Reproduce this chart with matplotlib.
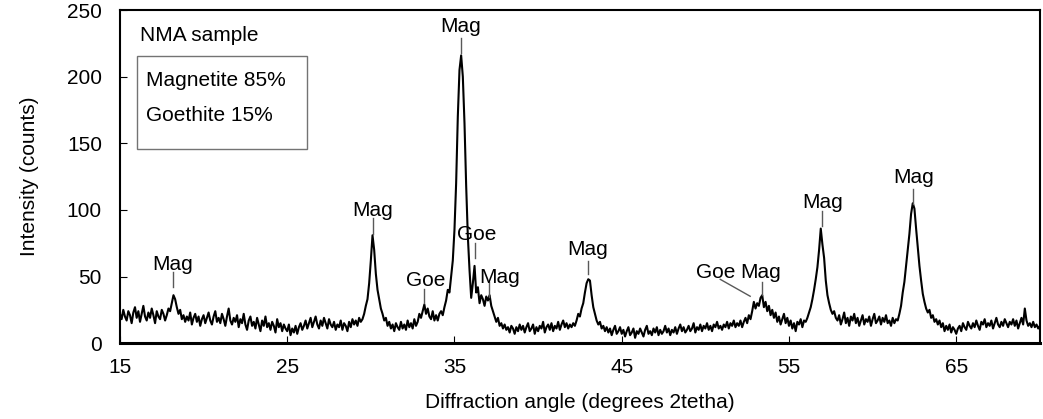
import numpy as np
import matplotlib
matplotlib.use("Agg")
import matplotlib.pyplot as plt
from matplotlib.patches import Rectangle

plt.rcParams['font.family'] = ['Liberation Sans', 'DejaVu Sans']

# 2theta scan grid, 0.1 deg steps from 15 to 70
two_theta = np.round(np.arange(15.0, 70.001, 0.1), 1)

# intensity, one list per 10 degrees
counts_15_25 = [
    22, 18, 25, 20, 17, 24, 21, 15, 23, 27,
    19, 24, 16, 22, 28, 20, 17, 23, 19, 26,
    21, 15, 24, 20, 18, 25, 22, 17, 21, 26,
    24, 30, 36, 33, 27, 22, 25, 18, 21, 16,
    20, 17, 23, 14, 19, 22, 16, 20, 13, 18,
    21, 15, 19, 23, 17, 14, 20, 24, 16, 19,
    15, 22, 18, 13, 20, 26, 17, 14, 19, 16,
    21, 12, 18, 15, 22, 14, 10, 17, 20, 13,
    16, 11, 19, 14, 9, 17, 13, 20, 12, 15,
    10, 16, 13, 8, 18, 12, 15, 9, 14, 11,
]
counts_25_35 = [
    9, 14, 6, 11, 8, 13, 7, 12, 15, 10,
    13, 17, 11, 15, 19, 12, 16, 20, 14, 11,
    17, 13, 19, 15, 11, 18, 14, 12, 16, 10,
    14, 12, 17, 10, 15, 13, 9, 16, 12, 18,
    14, 17, 13, 19, 16, 18, 22, 28, 33, 45,
    62, 81, 70, 52, 40, 33, 26, 22, 17, 19,
    13, 16, 11, 14, 9, 15, 12, 10, 16, 11,
    14, 10, 17, 12, 15, 11, 18, 13, 16, 22,
    19, 24, 29, 22, 26, 20, 18, 24, 17, 21,
    17, 22, 24, 21, 27, 32, 40, 38, 50, 62,
]
counts_35_45 = [
    85, 120, 170, 205, 216, 200, 165, 118, 80, 55,
    34, 45, 58, 38, 42, 30, 36, 33, 28, 35,
    32, 36, 28, 24, 20, 16, 19, 13, 15, 11,
    14, 10, 12, 8, 13, 11, 7, 12, 9, 14,
    10, 13, 8, 12, 15, 9, 11, 14, 7, 12,
    9, 13, 11, 16, 8, 12, 14, 10, 15, 9,
    13, 11, 16, 10, 14, 17, 12, 15, 11, 14,
    12, 15, 13, 17, 22, 20, 26, 30, 38, 45,
    48, 47, 36, 27, 22, 17, 14, 16, 11, 13,
    9, 12, 8, 11, 6, 10, 13, 7, 9, 12,
]
counts_45_55 = [
    7, 10, 5, 9, 12, 6, 8, 11, 4, 9,
    7, 11, 8, 5, 10, 13, 7, 9, 6, 11,
    8, 12, 6, 10, 7, 9, 13, 8, 11, 6,
    10, 8, 12, 7, 11, 14, 9, 12, 8, 10,
    13, 9, 11, 15, 8, 12, 10, 14, 9, 13,
    11, 15, 10, 13, 9, 14, 12, 16, 11, 13,
    10, 14, 12, 16, 11, 15, 13, 17, 12, 15,
    13, 17, 12, 16, 19, 15, 21, 18, 24, 31,
    26, 30, 28, 34, 36, 27, 31, 24, 28, 21,
    25, 19, 23, 16, 20, 14, 18, 22, 15, 19,
]
counts_55_65 = [
    13, 17, 11, 15, 9, 16, 14, 18, 12, 17,
    16, 19, 23, 27, 33, 40, 48, 57, 70, 86,
    74, 64, 47, 36, 30, 25, 22, 24, 19, 17,
    21, 14, 18, 23, 15, 19, 13, 20, 17, 22,
    15, 19, 13, 17, 21, 14, 18, 16, 20, 13,
    18, 22, 15, 17, 20, 14, 19, 16, 21, 15,
    17, 13, 19, 15, 18, 17, 22, 28, 38, 46,
    58, 70, 82, 97, 105, 101, 86, 72, 58, 47,
    37, 31, 26, 23, 25, 19, 21, 16, 18, 14,
    17, 12, 15, 9, 13, 10, 14, 8, 12, 10,
]
counts_65_70 = [
    7, 11, 13, 9, 15, 12, 10, 16, 13, 11,
    15, 12, 17, 13, 10, 16, 14, 18, 12, 15,
    13, 17, 11, 15, 19, 14, 12, 16, 13, 18,
    15, 12, 16, 14, 18, 13, 17, 11, 15, 19,
    14, 26, 17, 13, 15, 12, 16, 12, 14, 11,
    13,
]
intensity = np.array(counts_15_25 + counts_25_35 + counts_35_45
                     + counts_45_55 + counts_55_65 + counts_65_70)

# peak labels: text, text x, text baseline y, marker x, marker y0, marker y1
peak_names = ["Mag", "Mag", "Goe", "Mag", "Goe", "Mag", "Mag", "Mag", "Mag", "Mag"]
peak_text_x = [18.15, 30.12, 33.27, 35.37, 36.3, 37.7, 42.98, 53.33, 57.0, 62.44]
peak_text_y = [54.6, 95.8, 42.7, 233.8, 77.1, 44.9, 65.9, 48.9, 101.8, 120.0]
peak_line_x = [18.17, 30.1, 33.15, 35.37, 36.2, 37.08, 43.0, 53.39, 57.0, 62.44]
peak_line_lo = [42.1, 82.3, 30.0, 218.0, 63.6, 34.7, 52.0, 35.9, 88.0, 104.8]
peak_line_hi = [53.4, 93.6, 41.0, 229.0, 74.8, 45.9, 62.0, 45.9, 99.0, 116.0]

x_ticks = [15, 25, 35, 45, 55, 65]
y_ticks = [0, 50, 100, 150, 200, 250]

FS = 15

fig = plt.figure(figsize=(10.43, 4.19), dpi=100)
ax = fig.add_axes([0.115, 0.181, 0.882, 0.795])

ax.plot(two_theta, intensity, color='black', lw=1.5)

for name, tx, ty, lx, y0, y1 in zip(peak_names, peak_text_x, peak_text_y,
                                    peak_line_x, peak_line_lo, peak_line_hi):
    ax.text(tx, ty, name, ha='center', va='baseline', fontsize=FS)
    ax.plot([lx, lx], [y0, y1], color='0.35', lw=1)

# the Goe label next to the 53 deg Mag peak uses a slanted leader
ax.text(50.6, 48.9, "Goe", ha='center', va='baseline', fontsize=FS)
ax.plot([50.89, 52.68], [47.9, 35.2], color='0.35', lw=1)

ax.text(16.19, 226.8, "NMA sample", fontsize=FS, va='baseline')
ax.add_patch(Rectangle((16.0, 146.0), 10.2, 69.6, fill=False,
                       edgecolor='0.45', lw=1))
ax.text(16.55, 193, "Magnetite 85%", fontsize=FS, va='baseline')
ax.text(16.55, 167, "Goethite 15%", fontsize=FS, va='baseline')

ax.set_xlim(15, 70)
ax.set_ylim(0, 250)
ax.set_xticks(x_ticks)
ax.set_yticks(y_ticks)
ax.tick_params(direction='in', length=5, labelsize=FS)
ax.tick_params(axis='x', pad=11)
ax.tick_params(axis='y', pad=13)
for side in ['top', 'right', 'left']:
    ax.spines[side].set_linewidth(1.5)
ax.spines['bottom'].set_linewidth(2.2)

ax.set_xlabel("Diffraction angle (degrees 2tetha)", fontsize=FS, labelpad=11)
ax.set_ylabel("Intensity (counts)", fontsize=FS, labelpad=20)

fig.savefig("out.png", dpi=100)
